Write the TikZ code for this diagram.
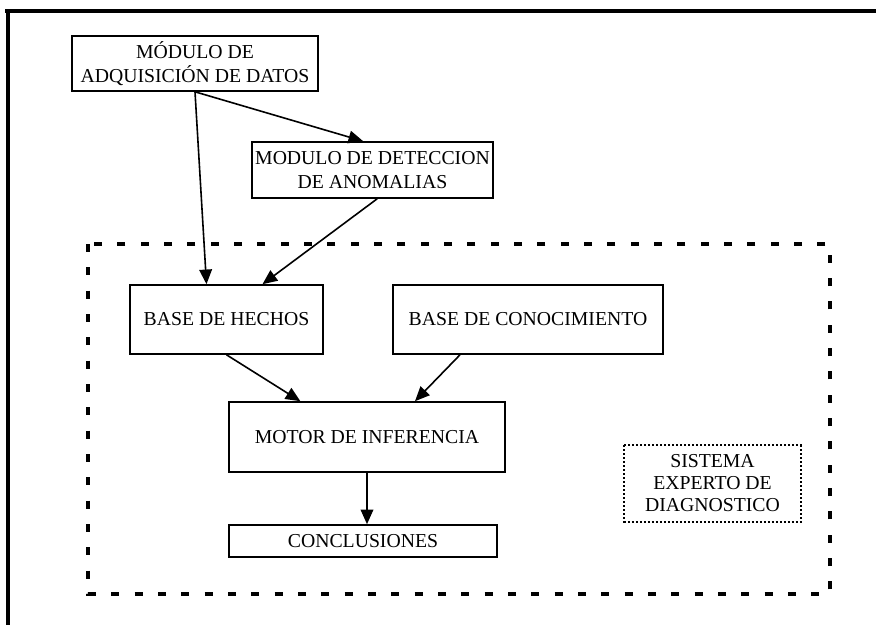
\documentclass[tikz,border=0pt]{standalone}
\usepackage{fontspec}
\setmainfont{Liberation Serif}
\usetikzlibrary{arrows.meta}

\begin{document}
\begin{tikzpicture}[x=0.75pt, y=-0.75pt,
    box/.style={draw, line width=1.2pt, align=center, inner sep=0pt,
        font=\fontsize{14.8}{18.5}\selectfont},
    flow/.style={line width=1.2pt, -{Triangle[length=11pt, width=9.5pt]}}]

% Page size
\useasboundingbox (0,0) rectangle (876,625);

% Frame
\draw[line width=3pt] (5,11) -- (876,11);
\draw[line width=3pt] (8,11) -- (8,625);

% Dashed area
\draw[line width=3pt, dash pattern=on 6pt off 11.5pt] (88,244) rectangle (830,594);

% Modules
\node[box, minimum width=184.5pt, minimum height=41.25pt] (adq) at (195,63.5)
    {MÓDULO DE\\ADQUISICIÓN DE DATOS};
\node[box, minimum width=180.75pt, minimum height=42pt] (det) at (372.5,170)
    {MODULO DE DETECCION\\DE ANOMALIAS};

% Bases
\node[box, minimum width=144.75pt, minimum height=51.75pt] (hechos) at (226.5,319.5)
    {BASE DE HECHOS};
\node[box, minimum width=202.5pt, minimum height=51.75pt] (conoc) at (528,319.5)
    {BASE DE CONOCIMIENTO};

% Inference
\node[box, minimum width=207pt, minimum height=52.5pt] (motor) at (367,437)
    {MOTOR DE INFERENCIA};
\node[box, minimum width=201pt, minimum height=24pt] (concl) at (363,541)
    {CONCLUSIONES};

% Label
\node[box, draw=none, minimum width=131.25pt, minimum height=56pt,
    font=\fontsize{14.8}{16.5}\selectfont] (sist) at (712.5,483.5)
    {SISTEMA\\EXPERTO DE\\DIAGNOSTICO};
\draw[line width=1.4pt, dash pattern=on 1.4pt off 1.6pt] (sist.north west) rectangle (sist.south east);

% Arrows
\draw[flow] (adq.south) -- ([xshift=-7pt]det.north);
\draw[flow] (adq.south) -- ([xshift=-15pt]hechos.north);
\draw[flow] ([xshift=3.5pt]det.south) -- ([xshift=27pt]hechos.north);
\draw[flow] (hechos.south) -- ([xshift=-50pt]motor.north);
\draw[flow] ([xshift=-51pt]conoc.south) -- ([xshift=36pt]motor.north);
\draw[flow] (motor.south) -- (motor.south |- concl.north);

\end{tikzpicture}
\end{document}
